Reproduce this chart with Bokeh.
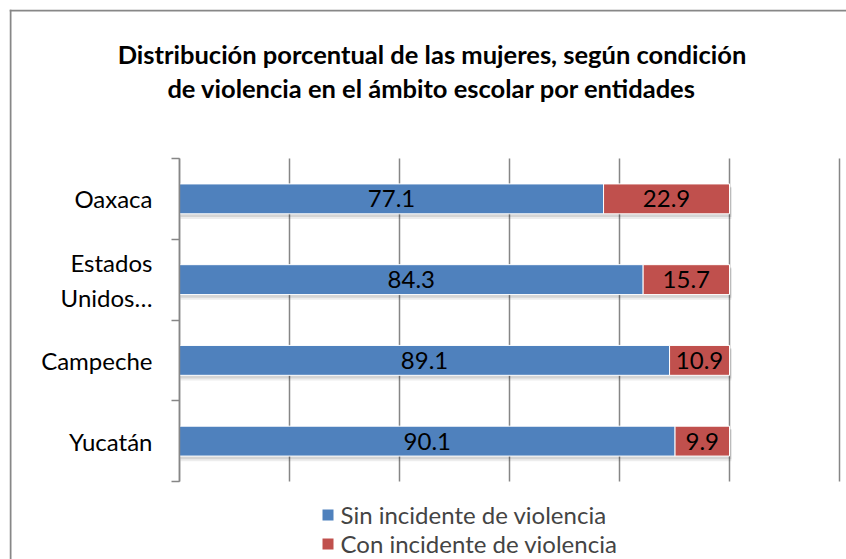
from bokeh.plotting import figure
from bokeh.models import (Range1d, FixedTicker, ColumnDataSource, Span,
                          Legend, LegendItem, Label)
from bokeh.embed import file_html
from bokeh.resources import INLINE
from bokeh.core.properties import value

# ---------------- data ----------------
categories = ["Yucatán", "Campeche", "Estados\nUnidos…", "Oaxaca"]
sin_violencia = [90.1, 89.1, 84.3, 77.1]
con_violencia = [9.9, 10.9, 15.7, 22.9]
series_names = ["Sin incidente de violencia", "Con incidente de violencia"]
colors = ["#4F81BD", "#C0504D"]
title_lines = ["Distribución porcentual de las mujeres, según condición",
               "de violencia en el ámbito escolar por entidades"]
x_ticks = [0, 20, 40, 60, 80, 100, 120]

FONT = "Lato"
GRID = "#868686"

# ---------------- layout (pixels) ----------------
W, H = 846, 559
FR_L, FR_T, FR_R, FR_B = 9, 9, W, H          # plot frame in canvas px
AX_L, AX_R = 179, 839                          # px of x=0 and x=120
Y_TOP, Y_BOT = 158, 481                        # px of category band edges
n = len(categories)
XMAX = x_ticks[-1]
sx = (AX_R - AX_L) / XMAX
sy = (Y_BOT - Y_TOP) / n
x_start = -(AX_L - FR_L) / sx
x_end = XMAX + (FR_R - AX_R) / sx
y_lo, y_hi = -0.5, n - 0.5
y_start = y_lo - (FR_B - Y_BOT) / sy
y_end = y_hi + (Y_TOP - FR_T) / sy


def px2x(px):
    return (px - AX_L) / sx


def px2y(py):
    return y_hi - (py - Y_TOP) / sy


ypos = list(range(n))
totals = [a + b for a, b in zip(sin_violencia, con_violencia)]
src = ColumnDataSource(dict(
    y=ypos,
    y_sh1=[v - 3 / sy for v in ypos],
    y_sh2=[v - 4.5 / sy for v in ypos],
    sin=sin_violencia,
    con=con_violencia,
    total=totals,
    total_sh=[t + 2 / sx for t in totals],
    sin_mid=[v / 2 for v in sin_violencia],
    con_mid=[a + b / 2 for a, b in zip(sin_violencia, con_violencia)],
    sin_lbl=[f"{v:.1f}" for v in sin_violencia],
    con_lbl=[f"{v:.1f}" for v in con_violencia],
))

p = figure(width=W, height=H, title=None,
           x_range=Range1d(x_start, x_end), y_range=Range1d(y_start, y_end),
           output_backend="svg", toolbar_location=None,
           min_border=0, min_border_left=FR_L, min_border_top=FR_T,
           min_border_right=0, min_border_bottom=0)
p.outline_line_color = None
p.background_fill_color = "white"
p.border_fill_color = "white"

# outer chart border (left + top)
p.add_layout(Span(location=px2x(FR_L + 1), dimension="height",
                  line_color="#878787", line_width=2))
p.add_layout(Span(location=px2y(FR_T + 1), dimension="width",
                  line_color="#878787", line_width=2))

# x grid (no visible x axis)
xt = FixedTicker(ticks=x_ticks)
p.xaxis.ticker = xt
p.xgrid.ticker = xt
p.xaxis.visible = False
p.xgrid.grid_line_color = GRID
p.xgrid.grid_line_width = 1.5
p.xgrid.cross_bounds = (y_lo, y_hi)
p.ygrid.grid_line_color = None

# y axis at x = 0: labels at category centres, tick marks between categories
bounds = [i - 0.5 for i in range(n + 1)]
p.yaxis.fixed_location = 0
p.yaxis.bounds = (y_lo, y_hi)
p.yaxis.ticker = FixedTicker(ticks=ypos, minor_ticks=bounds)
p.yaxis.major_label_overrides = {i: c for i, c in zip(ypos, categories)}
p.yaxis.major_tick_line_color = None
p.yaxis.major_tick_out = 0
p.yaxis.major_tick_in = 0
p.yaxis.minor_tick_line_color = GRID
p.yaxis.minor_tick_line_width = 1.5
p.yaxis.minor_tick_out = 8
p.yaxis.minor_tick_in = 0
p.yaxis.axis_line_color = GRID
p.yaxis.axis_line_width = 1.5
p.yaxis.major_label_standoff = 19
p.yaxis.major_label_text_font = FONT
p.yaxis.major_label_text_font_size = "24px"
p.yaxis.major_label_text_color = "#000000"

# shadows
p.hbar(y="y_sh2", left=1 / sx, right="total_sh", height=0.385, source=src,
       fill_color="#000000", fill_alpha=0.07, line_color=None)
p.hbar(y="y_sh1", left=1 / sx, right="total_sh", height=0.375, source=src,
       fill_color="#000000", fill_alpha=0.10, line_color=None)

# bars
r1 = p.hbar(y="y", left=0, right="sin", height=0.37, source=src,
            fill_color=colors[0], line_color="white", line_width=1)
r2 = p.hbar(y="y", left="sin", right="total", height=0.37, source=src,
            fill_color=colors[1], line_color="white", line_width=1)

# value labels
for xcol, tcol in (("sin_mid", "sin_lbl"), ("con_mid", "con_lbl")):
    p.text(x=xcol, y="y", text=tcol, source=src, text_align="center",
           text_baseline="middle", text_font=value(FONT), text_font_size="24px",
           text_color="#000000")

# title (two centred lines)
for i, line in enumerate(title_lines):
    p.add_layout(Label(x=px2x(431.5), y=px2y(53 + 34 * i),
                       text=line, text_align="center", text_baseline="middle",
                       text_font=FONT, text_font_size="25.5px", text_font_style="bold",
                       text_color="#000000"))

# legend
legend = Legend(items=[LegendItem(label=series_names[0], renderers=[r1]),
                       LegendItem(label=series_names[1], renderers=[r2])],
                location=(319.5 - FR_L, 1), orientation="vertical",
                glyph_width=15, glyph_height=15, label_standoff=6,
                label_height=28, spacing=0, padding=0, margin=0,
                label_text_font=FONT, label_text_font_size="24px",
                border_line_color=None, background_fill_alpha=0)
p.add_layout(legend, "center")

open("out.html", "w").write(file_html(p, INLINE))
